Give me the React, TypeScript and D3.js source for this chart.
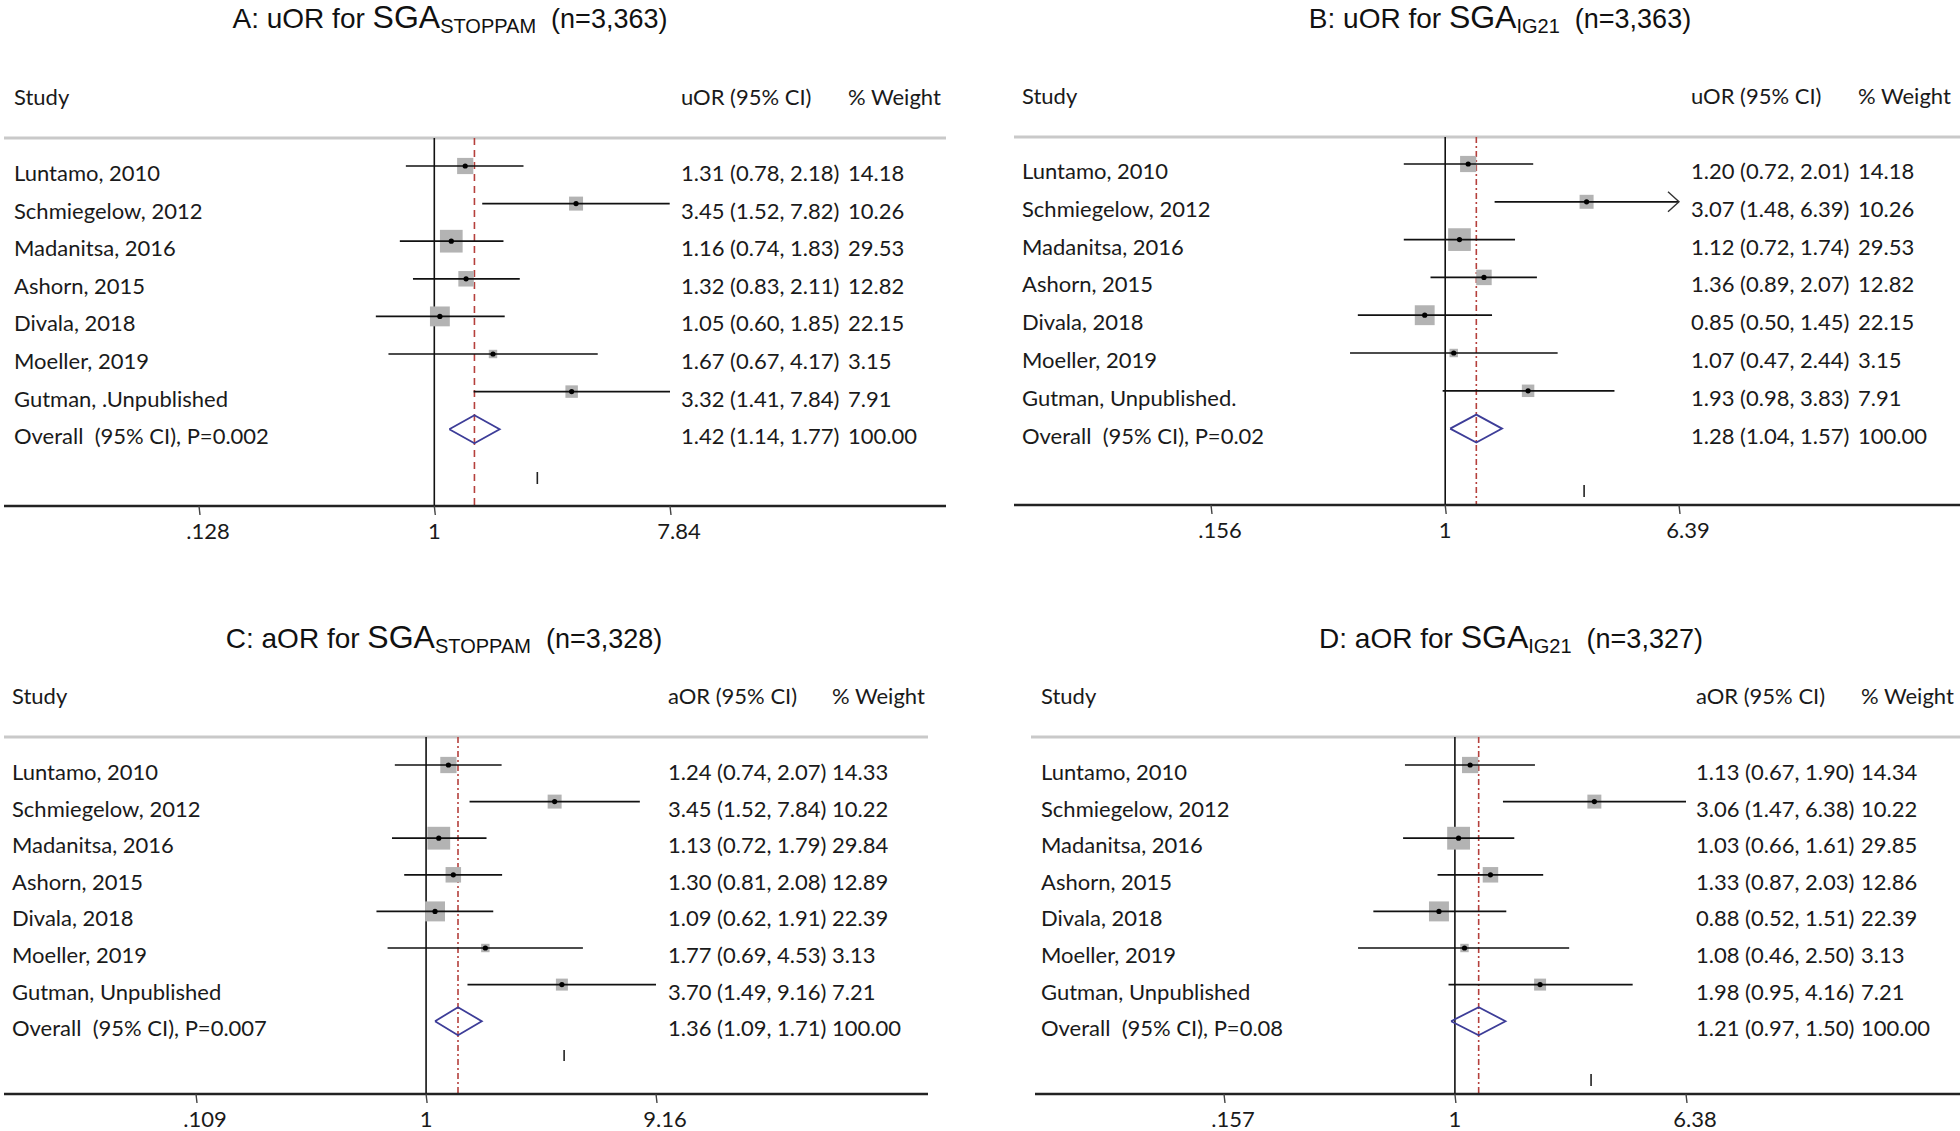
import * as d3 from 'd3';

// study labels
const studies = [
  'Luntamo, 2010',
  'Schmiegelow, 2012',
  'Madanitsa, 2016',
  'Ashorn, 2015',
  'Divala, 2018',
  'Moeller, 2019',
];
const gutmanA = 'Gutman, .Unpublished';
const gutmanB = 'Gutman, Unpublished.';
const gutmanCD = 'Gutman, Unpublished';

// A: uOR for SGA STOPPAM
const orA = [1.31, 3.45, 1.16, 1.32, 1.05, 1.67, 3.32];
const loA = [0.78, 1.52, 0.74, 0.83, 0.6, 0.67, 1.41];
const hiA = [2.18, 7.82, 1.83, 2.11, 1.85, 4.17, 7.84];
const wA = [14.18, 10.26, 29.53, 12.82, 22.15, 3.15, 7.91];
const overallA = [1.42, 1.14, 1.77];

// B: uOR for SGA IG21
const orB = [1.2, 3.07, 1.12, 1.36, 0.85, 1.07, 1.93];
const loB = [0.72, 1.48, 0.72, 0.89, 0.5, 0.47, 0.98];
const hiB = [2.01, 6.39, 1.74, 2.07, 1.45, 2.44, 3.83];
const wB = [14.18, 10.26, 29.53, 12.82, 22.15, 3.15, 7.91];
const overallB = [1.28, 1.04, 1.57];

// C: aOR for SGA STOPPAM
const orC = [1.24, 3.45, 1.13, 1.3, 1.09, 1.77, 3.7];
const loC = [0.74, 1.52, 0.72, 0.81, 0.62, 0.69, 1.49];
const hiC = [2.07, 7.84, 1.79, 2.08, 1.91, 4.53, 9.16];
const wC = [14.33, 10.22, 29.84, 12.89, 22.39, 3.13, 7.21];
const overallC = [1.36, 1.09, 1.71];

// D: aOR for SGA IG21
const orD = [1.13, 3.06, 1.03, 1.33, 0.88, 1.08, 1.98];
const loD = [0.67, 1.47, 0.66, 0.87, 0.52, 0.46, 0.95];
const hiD = [1.9, 6.38, 1.61, 2.03, 1.51, 2.5, 4.16];
const wD = [14.34, 10.22, 29.85, 12.86, 22.39, 3.13, 7.21];
const overallD = [1.21, 0.97, 1.5];

// axis ticks (min, null, max)
const ticksA = [0.128, 1, 7.84];
const ticksB = [0.156, 1, 6.39];
const ticksC = [0.109, 1, 9.16];
const ticksD = [0.157, 1, 6.38];
const tickLabelsA = ['.128', '1', '7.84'];
const tickLabelsB = ['.156', '1', '6.39'];
const tickLabelsC = ['.109', '1', '9.16'];
const tickLabelsD = ['.157', '1', '6.38'];

// the stray little mark under each plot
const markA = 2.46;
const markB = 3.01;
const markC = 3.78;
const markD = 2.98;

const BODY_FONT = 'Lato, "Open Sans", sans-serif';
const TITLE_FONT = '"Liberation Sans", Arial, sans-serif';

type Layout = {
  titleX: number;
  titleY: number;
  nameX: number;
  valX: number;
  wX: number;
  headerY: number;
  ruleY: number;
  ruleX: [number, number];
  axisY: number;
  axisX: [number, number];
  range: [number, number];
  rowFirst: number;
  rowStep: number;
  markY: [number, number];
  dash: string;
};

type PanelProps = {
  layout: Layout;
  letter: string;
  measure: string;
  sub: string;
  n: string;
  names: string[];
  or: number[];
  lo: number[];
  hi: number[];
  w: number[];
  overall: number[];
  p: string;
  ticks: number[];
  tickLabels: string[];
  mark: number;
  arrow?: boolean;
};

function Panel({
  layout: L,
  letter,
  measure,
  sub,
  n,
  names,
  or,
  lo,
  hi,
  w,
  overall,
  p,
  ticks,
  tickLabels,
  mark,
  arrow = false,
}: PanelProps) {
  const x = d3
    .scaleLog()
    .domain([ticks[0], ticks[2]])
    .range(L.range);
  const y = d3
    .scaleLinear()
    .domain([0, 1])
    .range([L.rowFirst, L.rowFirst + L.rowStep]);

  const side = (v: number) => 3.9 * Math.sqrt(v) + 1.5;
  const fmt = (v: number) => v.toFixed(2);
  const ovY = y(names.length);
  const diamond = d3.line()([
    [x(overall[1]), ovY],
    [x(overall[0]), ovY - 14],
    [x(overall[2]), ovY],
    [x(overall[0]), ovY + 14],
    [x(overall[1]), ovY],
  ]);

  return (
    <g>
      <text
        x={L.titleX}
        y={L.titleY}
        textAnchor='middle'
        fontFamily={TITLE_FONT}
        fontSize={28}
        fill='#111'
        style={{ whiteSpace: 'pre' }}
      >
        <tspan>{`${letter}: ${measure} for `}</tspan>
        <tspan fontSize={32}>SGA</tspan>
        <tspan fontSize={20} dy={5}>
          {sub}
        </tspan>
        <tspan fontSize={27} dy={-5}>{`  (n=${n})`}</tspan>
      </text>

      <g fontFamily={BODY_FONT} fontSize={22} fill='#1a1a1a'>
        <text x={L.nameX} y={L.headerY}>
          Study
        </text>
        <text x={L.valX} y={L.headerY}>
          {`${measure} (95% CI)`}
        </text>
        <text x={L.wX} y={L.headerY}>
          % Weight
        </text>
      </g>

      <line
        x1={L.ruleX[0]}
        x2={L.ruleX[1]}
        y1={L.ruleY}
        y2={L.ruleY}
        stroke='#c9c9c9'
        strokeWidth={3}
      />

      {/* null line and overall line */}
      <line
        x1={x(1)}
        x2={x(1)}
        y1={L.ruleY}
        y2={L.axisY}
        stroke='#111'
        strokeWidth={1.6}
      />
      <line
        x1={x(overall[0])}
        x2={x(overall[0])}
        y1={L.ruleY}
        y2={L.axisY}
        stroke='#b5403c'
        strokeWidth={1.6}
        strokeDasharray={L.dash}
      />

      {names.map((name, i) => {
        const cy = y(i);
        const s = side(w[i]);
        return (
          <g key={name}>
            <rect
              x={x(or[i]) - s / 2}
              y={cy - s / 2}
              width={s}
              height={s}
              fill='#b3b3b3'
            />
            <line
              x1={x(lo[i])}
              x2={x(hi[i])}
              y1={cy}
              y2={cy}
              stroke='#111'
              strokeWidth={1.7}
            />
            {arrow && hi[i] >= ticks[2] && (
              <path
                d={`M${x(hi[i]) - 11},${cy - 10}L${x(hi[i])},${cy}L${x(hi[i]) - 11},${cy + 10}`}
                fill='none'
                stroke='#333'
                strokeWidth={1.4}
              />
            )}
            <circle cx={x(or[i])} cy={cy} r={2.6} fill='#000' />
            <g fontFamily={BODY_FONT} fontSize={22} fill='#1a1a1a'>
              <text x={L.nameX} y={cy + 15}>
                {name}
              </text>
              <text x={L.valX} y={cy + 15}>
                {`${fmt(or[i])} (${fmt(lo[i])}, ${fmt(hi[i])})`}
              </text>
              <text x={L.wX} y={cy + 15}>
                {fmt(w[i])}
              </text>
            </g>
          </g>
        );
      })}

      <path d={diamond ?? ''} fill='none' stroke='#3d3d98' strokeWidth={1.8} />
      <g fontFamily={BODY_FONT} fontSize={22} fill='#1a1a1a'>
        <text x={L.nameX} y={ovY + 15} style={{ whiteSpace: 'pre' }}>
          {`Overall  (95% CI), P=${p}`}
        </text>
        <text x={L.valX} y={ovY + 15}>
          {`${fmt(overall[0])} (${fmt(overall[1])}, ${fmt(overall[2])})`}
        </text>
        <text x={L.wX} y={ovY + 15}>
          100.00
        </text>
      </g>

      <line
        x1={x(mark)}
        x2={x(mark)}
        y1={L.markY[0]}
        y2={L.markY[1]}
        stroke='#222'
        strokeWidth={1.6}
      />

      {/* x axis */}
      <line
        x1={L.axisX[0]}
        x2={L.axisX[1]}
        y1={L.axisY}
        y2={L.axisY}
        stroke='#222'
        strokeWidth={2.6}
      />
      {ticks.map((t, i) => (
        <g key={t}>
          <line
            x1={x(t)}
            x2={x(t) + 1}
            y1={L.axisY}
            y2={L.axisY + 9}
            stroke='#444'
            strokeWidth={1.4}
          />
          <text
            x={x(t) + (i === 1 ? 0 : 9)}
            y={L.axisY + 33}
            textAnchor='middle'
            fontFamily={BODY_FONT}
            fontSize={22}
            fill='#1a1a1a'
          >
            {tickLabels[i]}
          </text>
        </g>
      ))}
    </g>
  );
}

const layoutA: Layout = {
  titleX: 450,
  titleY: 28,
  nameX: 14,
  valX: 681,
  wX: 848,
  headerY: 105,
  ruleY: 138,
  ruleX: [4, 946],
  axisY: 506,
  axisX: [4, 946],
  range: [199, 670],
  rowFirst: 166,
  rowStep: 37.6,
  markY: [472, 484],
  dash: '7,5',
};
const layoutB: Layout = {
  titleX: 1500,
  titleY: 28,
  nameX: 1022,
  valX: 1691,
  wX: 1858,
  headerY: 104,
  ruleY: 137,
  ruleX: [1014, 1960],
  axisY: 505,
  axisX: [1014, 1960],
  range: [1211, 1679],
  rowFirst: 164,
  rowStep: 37.8,
  markY: [485, 497],
  dash: '6,3,2,3',
};
const layoutC: Layout = {
  titleX: 444,
  titleY: 648,
  nameX: 12,
  valX: 668,
  wX: 832,
  headerY: 704,
  ruleY: 737,
  ruleX: [4, 928],
  axisY: 1094,
  axisX: [4, 928],
  range: [196, 656],
  rowFirst: 765,
  rowStep: 36.6,
  markY: [1050, 1061],
  dash: '6,3,2,3',
};
const layoutD: Layout = {
  titleX: 1511,
  titleY: 648,
  nameX: 1041,
  valX: 1696,
  wX: 1861,
  headerY: 704,
  ruleY: 737,
  ruleX: [1031, 1960],
  axisY: 1094,
  axisX: [1035, 1960],
  range: [1224, 1686],
  rowFirst: 765,
  rowStep: 36.6,
  markY: [1074, 1086],
  dash: '6,3,2,3',
};

export default function App() {
  return (
    <svg
      width={1960}
      height={1131}
      style={{ position: 'absolute', left: 0, top: 0, background: '#fff' }}
    >
      <rect width={1960} height={1131} fill='#fff' />
      <Panel
        layout={layoutA}
        letter='A'
        measure='uOR'
        sub='STOPPAM'
        n='3,363'
        names={[...studies, gutmanA]}
        or={orA}
        lo={loA}
        hi={hiA}
        w={wA}
        overall={overallA}
        p='0.002'
        ticks={ticksA}
        tickLabels={tickLabelsA}
        mark={markA}
      />
      <Panel
        layout={layoutB}
        letter='B'
        measure='uOR'
        sub='IG21'
        n='3,363'
        names={[...studies, gutmanB]}
        or={orB}
        lo={loB}
        hi={hiB}
        w={wB}
        overall={overallB}
        p='0.02'
        ticks={ticksB}
        tickLabels={tickLabelsB}
        mark={markB}
        arrow
      />
      <Panel
        layout={layoutC}
        letter='C'
        measure='aOR'
        sub='STOPPAM'
        n='3,328'
        names={[...studies, gutmanCD]}
        or={orC}
        lo={loC}
        hi={hiC}
        w={wC}
        overall={overallC}
        p='0.007'
        ticks={ticksC}
        tickLabels={tickLabelsC}
        mark={markC}
      />
      <Panel
        layout={layoutD}
        letter='D'
        measure='aOR'
        sub='IG21'
        n='3,327'
        names={[...studies, gutmanCD]}
        or={orD}
        lo={loD}
        hi={hiD}
        w={wD}
        overall={overallD}
        p='0.08'
        ticks={ticksD}
        tickLabels={tickLabelsD}
        mark={markD}
      />
    </svg>
  );
}
